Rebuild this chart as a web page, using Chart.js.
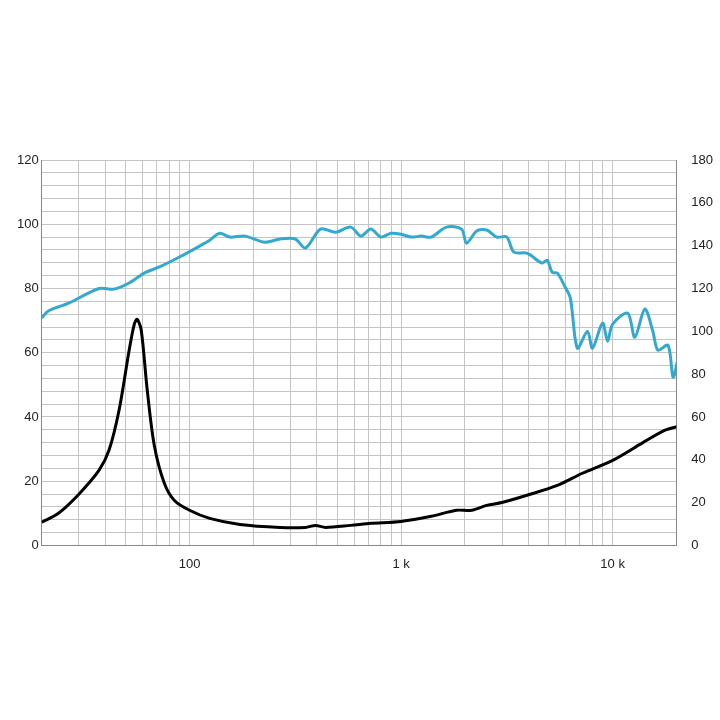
<!DOCTYPE html>
<html>
<head>
<meta charset="utf-8">
<script src="https://cdn.jsdelivr.net/npm/chart.js@4.4.0/dist/chart.umd.min.js"></script>
<style>
  html, body { margin: 0; padding: 0; background: #fff; }
  #wrap { width: 720px; height: 720px; }
</style>
</head>
<body>
<div id="wrap"><canvas id="chart" width="720" height="720"></canvas></div>
<script>
// SPL curve (left axis)
const splFreq = [20, 21.5, 26.8, 37.3, 43.9, 51.8, 61.1, 72, 89.6, 111.6, 124.5, 138.9, 155, 183, 227, 268, 316, 353, 416, 490, 578, 645, 720, 803, 896, 1000, 1116, 1245, 1389, 1638, 1931, 2039, 2276, 2540, 2833, 3162, 3413, 3936, 4642, 4903, 5179, 5471, 5904, 6310, 6813, 7601, 8032, 8960, 9466, 10000, 11788, 12730, 14195, 15490, 16360, 18279, 19307, 20400];
const splValues = [70.8, 73, 75.4, 80, 79.8, 81.7, 84.8, 86.7, 89.8, 93.2, 95, 97.2, 96, 96.3, 94.4, 95.4, 95.4, 92.6, 98.5, 97.5, 99.1, 96.3, 98.5, 96, 97.2, 96.9, 96, 96.3, 96, 99.1, 98.5, 94.1, 97.9, 98.2, 96, 96, 91.3, 91, 87.9, 88.8, 85, 84.8, 81, 77, 61.4, 66.7, 61.4, 69.2, 63.6, 68.9, 72.3, 64.8, 73.6, 66.7, 60.8, 62.3, 52.4, 58.3];

// impedance curve (right axis)
const impFreq = [20, 24, 29.9, 37.3, 41.6, 46.4, 51.8, 54.7, 56.5, 59.1, 63.1, 68.1, 76, 84.8, 100, 124.5, 173, 268, 353, 394, 439, 578, 720, 1000, 1389, 1828, 2154, 2540, 2994, 3936, 5471, 7197, 10000, 13895, 17694, 20400];
const impValues = [10.8, 15, 23.8, 35, 44.4, 63, 91, 103, 105.6, 100.5, 72.5, 46.8, 29, 21, 16.4, 12.6, 9.8, 8.4, 8.4, 9.35, 8.4, 9.35, 10.3, 11.2, 13.6, 16.4, 16.4, 18.7, 20, 23.4, 28, 33.7, 39.7, 48, 53.8, 55.6];

const leftTicks = [0, 20, 40, 60, 80, 100, 120];
const rightTicks = [0, 20, 40, 60, 80, 100, 120, 140, 160, 180];
const xLabels = { 100: '100', 1000: '1 k', 10000: '10 k' };

const xGrid = [];
[10, 100, 1000, 10000].forEach(d => {
  for (let m = 1; m <= 9; m++) {
    const v = d * m;
    if (v >= 20 && v <= 20000) xGrid.push(v);
  }
});

const toPts = (xs, ys) => xs.map((x, i) => ({ x, y: ys[i] }));

new Chart(document.getElementById('chart'), {
  type: 'line',
  data: {
    datasets: [
      {
        data: toPts(splFreq, splValues),
        borderColor: '#33a9cf',
        borderWidth: 3,
        pointRadius: 0,
        tension: 0.3,
        yAxisID: 'y'
      },
      {
        data: toPts(impFreq, impValues),
        borderColor: '#000',
        borderWidth: 3,
        pointRadius: 0,
        tension: 0.3,
        yAxisID: 'y2'
      }
    ]
  },
  options: {
    responsive: false,
    animation: false,
    layout: { padding: { top: 160, bottom: 137, left: 14, right: 0 } },
    plugins: { legend: { display: false }, tooltip: { enabled: false } },
    scales: {
      x: {
        type: 'logarithmic',
        min: 20,
        max: 20000,
        afterBuildTicks: s => { s.ticks = xGrid.map(v => ({ value: v })); },
        ticks: {
          autoSkip: false,
          maxRotation: 0,
          padding: 11,
          color: '#222',
          font: { family: 'Liberation Sans', size: 13 },
          callback: v => xLabels[v] || ''
        },
        grid: { color: '#c4c4c4', drawTicks: false },
        border: { color: '#888' }
      },
      y: {
        position: 'left',
        min: 0,
        max: 120,
        ticks: {
          stepSize: 4,
          autoSkip: false,
          color: '#222',
          font: { family: 'Liberation Sans', size: 13 },
          callback: v => leftTicks.includes(v) ? v : ''
        },
        grid: { color: '#c4c4c4', drawTicks: false },
        border: { color: '#888' }
      },
      y2: {
        position: 'right',
        min: 0,
        max: 180,
        afterBuildTicks: s => { s.ticks = rightTicks.map(v => ({ value: v })); },
        ticks: {
          color: '#222',
          font: { family: 'Liberation Sans', size: 13 },
          padding: 7
        },
        grid: { display: false },
        border: { color: '#888' }
      }
    }
  }
});
</script>
</body>
</html>
